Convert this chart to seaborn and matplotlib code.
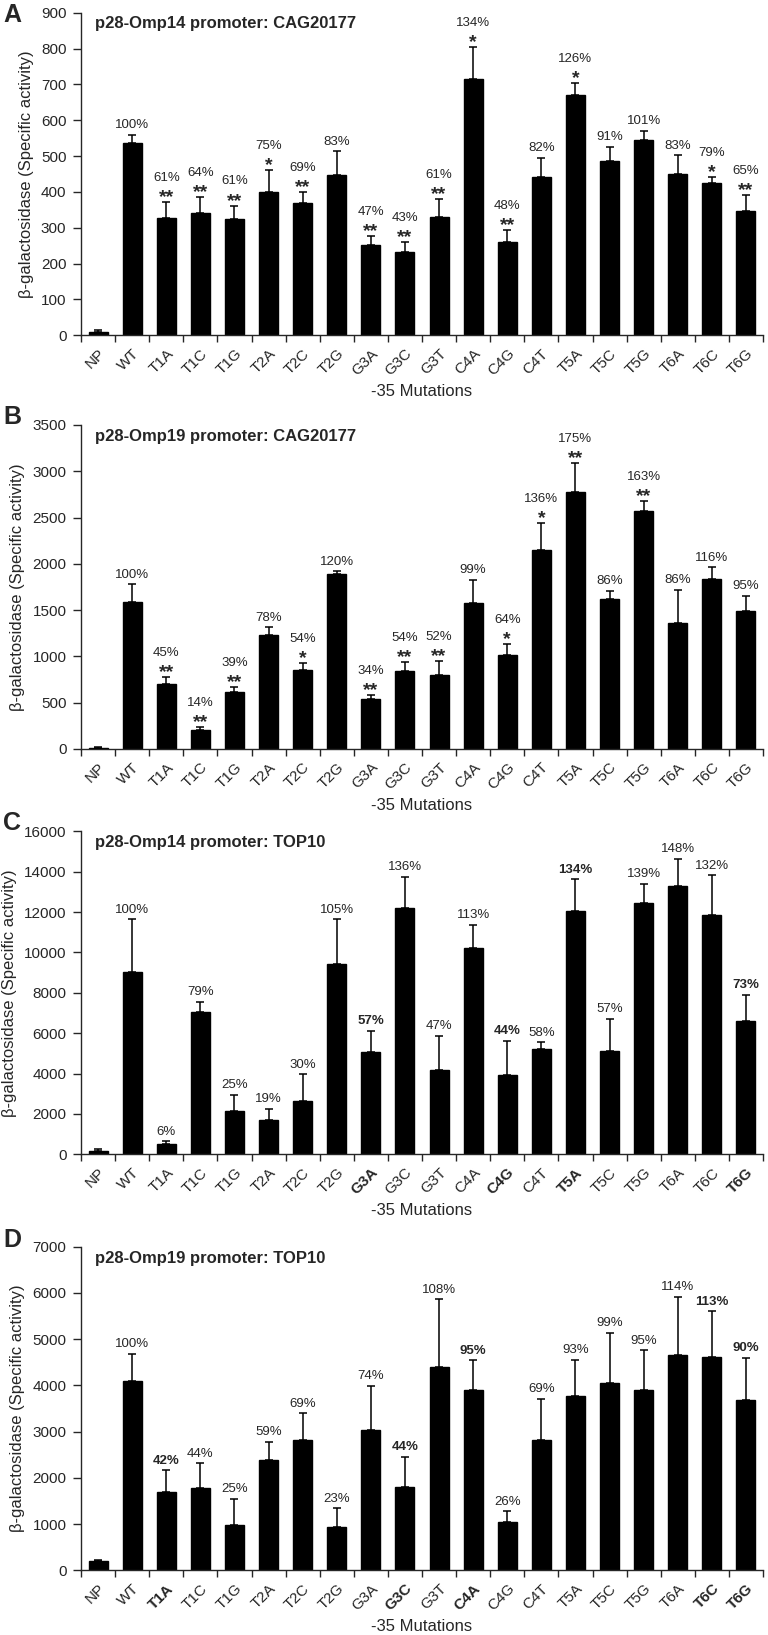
import numpy as np
import pandas as pd
import matplotlib
matplotlib.use("Agg")
import matplotlib.pyplot as plt
import seaborn as sns

sns.set_style("ticks")
plt.rcParams['font.family'] = ['Liberation Sans', 'DejaVu Sans']
plt.rcParams['axes.linewidth'] = 1.0

categories = ["NP", "WT", "T1A", "T1C", "T1G", "T2A", "T2C", "T2G", "G3A", "G3C",
              "G3T", "C4A", "C4G", "C4T", "T5A", "T5C", "T5G", "T6A", "T6C", "T6G"]

# Panel A
a_values = [10, 537, 326, 340, 325, 400, 370, 446, 252, 233, 331, 715, 259, 442, 671, 487, 545, 449, 424, 348]
a_errors = [5, 22, 45, 45, 37, 61, 31, 67, 24, 28, 50, 90, 34, 54, 33, 39, 26, 53, 18, 44]
a_percent = ["", "100%", "61%", "64%", "61%", "75%", "69%", "83%", "47%", "43%", "61%", "134%", "48%",
             "82%", "126%", "91%", "101%", "83%", "79%", "65%"]
a_stars = ["", "", "**", "**", "**", "*", "**", "", "**", "**", "**", "*", "**", "", "*", "", "", "", "*", "**"]

# Panel B
b_values = [10, 1588, 706, 209, 619, 1228, 857, 1890, 537, 846, 803, 1577, 1015, 2153, 2780, 1624, 2567, 1365, 1836, 1491]
b_errors = [10, 191, 68, 32, 47, 86, 72, 33, 43, 94, 151, 252, 119, 285, 306, 86, 112, 356, 127, 165]
b_percent = ["", "100%", "45%", "14%", "39%", "78%", "54%", "120%", "34%", "54%", "52%", "99%", "64%",
             "136%", "175%", "86%", "163%", "86%", "116%", "95%"]
b_stars = ["", "", "**", "**", "**", "", "*", "", "**", "**", "**", "", "*", "*", "**", "", "**", "", "", ""]

# Panel C
c_values = [182, 9016, 528, 7067, 2163, 1684, 2642, 9445, 5086, 12219, 4161, 10238, 3913, 5201, 12054, 5119,
            12467, 13309, 11873, 6589]
c_errors = [99, 2625, 116, 496, 776, 562, 1321, 2196, 1040, 1536, 1717, 1123, 1718, 347, 1569, 1602, 941, 1338,
            1948, 1304]
c_percent = ["", "100%", "6%", "79%", "25%", "19%", "30%", "105%", "57%", "136%", "47%", "113%", "44%", "58%",
             "134%", "57%", "139%", "148%", "132%", "73%"]
c_bold = ["G3A", "C4G", "T5A", "T6G"]

# Panel D
d_values = [202, 4088, 1701, 1774, 988, 2394, 2819, 937, 3035, 1795, 4398, 3893, 1053, 2819, 3778, 4059, 3893,
            4650, 4607, 3677]
d_errors = [29, 598, 469, 540, 562, 389, 584, 404, 959, 664, 1471, 656, 230, 894, 779, 1082, 873, 1269, 995, 923]
d_percent = ["", "100%", "42%", "44%", "25%", "59%", "69%", "23%", "74%", "44%", "108%", "95%", "26%", "69%",
             "93%", "99%", "95%", "114%", "113%", "90%"]
d_bold = ["T1A", "G3C", "C4A", "T6C", "T6G"]

titles = ["p28-Omp14 promoter: CAG20177", "p28-Omp19 promoter: CAG20177",
          "p28-Omp14 promoter: TOP10", "p28-Omp19 promoter: TOP10"]
letters = ["A", "B", "C", "D"]
ylims = [900, 3500, 16000, 7000]
ysteps = [100, 500, 2000, 1000]

W, H = 768, 1635
fig = plt.figure(figsize=(W / 100, H / 100), dpi=100)

# axes boxes in pixels: (top, bottom)
boxes = [(12.7, 335.3), (425, 749), (831.3, 1154.3), (1246.7, 1570.3)]
letter_y = [15, 417, 823, 1240]
left_px, right_px = 81, 763


def panel(idx, values, errors, percent, stars, bold):
    top, bot = boxes[idx]
    ax = fig.add_axes([left_px / W, 1 - bot / H, (right_px - left_px) / W, (bot - top) / H])
    df = pd.DataFrame({"mutation": categories, "activity": values})
    sns.barplot(data=df, x="mutation", y="activity", order=categories, color="black",
                saturation=1, width=0.56, errorbar=None, ax=ax, edgecolor="black")
    n = len(categories)
    x = np.arange(n)
    vals = np.array(values, dtype=float)
    errs = np.array(errors, dtype=float)
    ax.errorbar(x, vals, yerr=[np.zeros(n), errs], fmt="none", ecolor="black",
                elinewidth=1.1, capsize=3, capthick=1.1, zorder=3)
    ax.set_xlim(-0.5, n - 0.5)
    ax.set_ylim(0, ylims[idx])
    ax.set_yticks(np.arange(0, ylims[idx] + 1, ysteps[idx]))
    sns.despine(ax=ax)
    ax.set_xticks(np.arange(-0.5, n, 1), minor=True)
    ax.tick_params(axis="x", which="minor", length=5, width=1, direction="out")
    ax.tick_params(axis="x", which="major", length=0, pad=8)
    ax.tick_params(axis="y", length=6, width=1, direction="out", labelsize=11, pad=4.5)
    ax.set_xticklabels(categories, rotation=45, ha="right", rotation_mode="anchor", fontsize=11)
    for lab in ax.get_xticklabels():
        if lab.get_text() in bold:
            lab.set_fontweight("bold")
    ax.set_xlabel("-35 Mutations", fontsize=12, labelpad=4)
    ax.set_ylabel("β-galactosidase (Specific activity)", fontsize=12, labelpad=5)
    ax.text(0.02, 0.965, titles[idx], transform=ax.transAxes, fontsize=12, fontweight="bold",
            ha="left", va="center")
    for i in range(n):
        ytop = vals[i] + errs[i]
        s = stars[i] if stars else ""
        p = percent[i]
        pbold = categories[i] in bold
        if s:
            ax.annotate(s, xy=(i, ytop), xytext=(0, -3), textcoords="offset points",
                        ha="center", va="bottom", fontsize=14, fontweight="bold")
            off = 13
        else:
            off = 2.5
        if p:
            ax.annotate(p, xy=(i, ytop), xytext=(0, off), textcoords="offset points",
                        ha="center", va="bottom", fontsize=9.5,
                        fontweight="bold" if pbold else "normal")
    fig.text(3 / W, 1 - letter_y[idx] / H, letters[idx], fontsize=18, fontweight="bold",
             ha="left", va="center")
    return ax


panel(0, a_values, a_errors, a_percent, a_stars, [])
panel(1, b_values, b_errors, b_percent, b_stars, [])
panel(2, c_values, c_errors, c_percent, None, c_bold)
panel(3, d_values, d_errors, d_percent, None, d_bold)

fig.savefig("out.png", dpi=100)
